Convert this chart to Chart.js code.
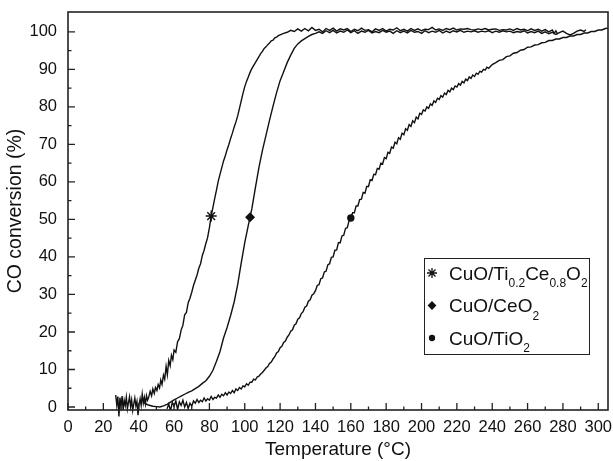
<!DOCTYPE html>
<html>
<head>
<meta charset="utf-8">
<script src="https://cdn.jsdelivr.net/npm/chart.js@4.4.1/dist/chart.umd.min.js"></script>
<style>
  html, body { margin: 0; padding: 0; background: #fff; }
  canvas { display: block; }
</style>
</head>
<body>
<canvas id="coChart" width="613" height="461"></canvas>
<script>
// ----------------------------------------------------
// Data: [temperature (°C), CO conversion (%)]
// ----------------------------------------------------
const tiCeData = [
  [27,3.2],[27.6,0.5],[28.2,2.8],[28.8,-2.5],[29.4,2.5],[30,0.2],[30.6,2.9],[31.2,-0.8],[31.8,1.8],[32.4,0.4],
  [33,2.6],[33.6,-0.5],[34.2,1.2],[34.8,2.7],[35.4,0.1],[36,1.9],[36.6,-0.9],[37.2,0.8],[37.8,2.4],[38.4,0.3],
  [39,1.5],[39.6,-2.2],[40.2,0.6],[40.8,2.2],[41.4,0.4],[42,3.4],[42.6,1.0],[43.2,2.6],[43.8,0.8],[44.4,3.0],
  [45,1.8],[45.6,2.5],[46.5,4.2],[47.3,3.0],[48,4.8],[48.8,3.6],[49.5,5.2],[50.3,4.4],[51,6.0],[51.8,5.1],
  [52.5,7.2],[53.2,6.0],[54,8.5],[54.7,7.4],[55.5,10.8],[56.2,8.6],[57,12.4],[57.8,11.0],[58.5,13.8],[59.3,12.6],
  [60,15.2],[61,14.6],[62,17.4],[63,18.2],[64,20.5],[65,21.8],[66,24.6],[67,25.2],[68,27.8],[69,29.0],
  [70,30.6],[71,32.4],[72,33.8],[73,35.2],[74,37.0],[75,38.2],[76,40.4],[77,41.8],[78,43.6],[79,45.2],
  [80,47.8],[81,50.9],[82,53.2],[83,55.6],[84,57.8],[85,60.2],[86,62.0],[87,63.8],[88,65.6],[89,67.0],
  [90,68.6],[91,70.0],[92,71.6],[93,73.0],[94,74.6],[95,76.0],[96,77.6],[97,79.6],[98,81.6],[99,83.6],
  [100,85.4],[101,86.8],[102,88.0],[103,89.2],[104,90.2],[105,91.0],[106,91.8],[107,92.6],[108,93.4],[109,94.2],
  [110,94.8],[111,95.6],[112,96.0],[113,96.6],[114,97.0],[115,97.6],[116,97.8],[117,98.4],[118,98.6],[119,99.0],
  [120,99.2],[122,99.6],[124,99.9],[126,100.4],[128,100.1],[130,100.8],[132,100.2],[134,100.9],[136,100.3],[138,101.2],
  [140,100.4],[142,100.7],[144,100.0],[146,100.9],[148,100.4],[150,101.0],[152,100.2],[154,100.8],[156,100.5],[158,100.9],
  [160,100.1],[162,100.7],[164,100.3],[166,101.0],[168,100.4],[170,100.6],[172,100.0],[174,100.8],[176,100.4],[178,100.9],
  [180,100.2],[182,100.7],[184,100.5],[186,101.1],[188,100.3],[190,100.7],[192,100.2],[194,100.9],[196,100.4],[198,100.8],
  [200,100.3],[202,100.7],[204,100.6],[206,101.2],[208,100.5],[210,100.8],[212,100.4],[214,100.9],[216,100.6],[218,101.0],
  [220,100.5],[222,100.8],[224,100.7],[226,100.9],[228,100.6],[230,100.5],[232,100.8],[234,100.6],[236,100.9],[238,100.5],
  [240,100.7],[242,100.8],[244,100.4],[246,100.6],[248,100.5],[250,100.8],[252,100.4],[254,100.9],[256,100.5],[258,100.7],
  [260,100.3],[262,100.8],[264,100.4],[266,100.7],[268,100.2],[270,100.6],[272,100.0],[274,100.5],[275,99.6],[276,100.3],
  [277,99.4]
];

const ceo2Data = [
  [42.5,1.2],[45,0.6],[48,0.2],[50,0.1],[52,0.0],[54,0.3],[56,0.7],[58,1.3],[60,1.9],[62,2.4],
  [64,2.9],[66,3.4],[68,3.9],[70,4.3],[72,4.9],[74,5.5],[76,6.3],[78,7.0],[80,8.2],[82,9.8],
  [84,12.2],[86,14.8],[88,18.4],[90,21.2],[92,24.4],[94,28.0],[96,32.6],[98,38.4],[100,43.8],[102,48.4],
  [103,50.6],[104,52.8],[106,58.4],[108,63.8],[110,68.4],[112,72.4],[114,76.4],[116,80.2],[118,83.8],[120,87.0],
  [122,89.4],[124,91.8],[126,93.8],[128,95.6],[130,96.8],[132,97.6],[134,98.2],[136,98.8],[138,99.3],[140,99.6],
  [142,100.0],[144,99.6],[146,100.3],[148,99.8],[150,100.4],[152,99.7],[154,100.2],[156,99.9],[158,100.5],[160,99.8],
  [162,100.3],[164,99.6],[166,100.2],[168,99.9],[170,100.4],[172,99.7],[174,100.1],[176,99.8],[178,100.4],[180,99.9],
  [182,100.2],[184,99.6],[186,100.3],[188,99.8],[190,100.2],[192,99.7],[194,100.4],[196,99.9],[198,100.1],[200,99.6],
  [202,100.3],[204,99.8],[206,100.2],[208,99.9],[210,100.4],[212,99.7],[214,100.2],[216,99.8],[218,100.3],[220,100.0],
  [222,100.4],[224,99.9],[226,100.2],[228,100.0],[230,100.3],[232,99.9],[234,100.2],[236,100.0],[238,100.3],[240,99.8],
  [242,100.2],[244,99.9],[246,100.3],[248,100.0],[250,100.2],[252,99.8],[254,100.1],[256,99.9],[258,100.3],[260,99.7],
  [262,100.1],[264,99.8],[266,100.2],[268,99.6],[270,100.0],[272,99.5],[274,99.9],[276,99.3],[278,99.8],[280,100.2],
  [282,99.6],[284,99.2],[286,99.6],[288,100.2],[290,100.5],[292,100.1],[293,100.6]
];

const tio2Data = [
  [56,-0.5],[57,0.8],[58,-1.0],[59,1.2],[60,0.2],[61,1.6],[62,-0.6],[63,1.4],[64,0.4],[65,1.8],
  [66,0.0],[67,1.2],[68,-0.4],[69,1.0],[70,0.2],[71,1.6],[72,1.0],[73,2.0],[74,1.2],[75,1.8],
  [76,1.4],[77,2.4],[78,1.6],[79,2.2],[80,1.8],[81,2.8],[82,2.0],[83,2.6],[84,2.4],[85,3.2],
  [86,2.6],[87,3.4],[88,3.0],[89,3.8],[90,3.2],[91,4.0],[92,3.6],[93,4.4],[94,3.8],[95,4.8],
  [96,4.4],[97,5.2],[98,4.8],[99,5.6],[100,5.4],[101,6.2],[102,5.8],[103,6.6],[104,6.6],[105,7.4],
  [106,7.2],[107,8.0],[108,8.2],[109,8.8],[110,9.2],[111,9.8],[112,10.4],[113,10.8],[114,11.6],[115,12.0],
  [116,12.8],[117,13.4],[118,14.4],[119,14.8],[120,15.8],[121,16.2],[122,17.2],[123,17.6],[124,18.6],[125,19.2],
  [126,20.2],[127,20.6],[128,21.8],[129,22.2],[130,23.4],[131,23.8],[132,24.9],[133,25.4],[134,26.6],[135,26.9],
  [136,28.2],[137,28.6],[138,29.8],[139,30.2],[140,31.0],[141,32.4],[142,32.6],[143,34.2],[144,34.4],[145,36.0],
  [146,36.2],[147,37.9],[148,38.2],[149,39.9],[150,40.0],[151,41.8],[152,41.9],[153,43.8],[154,43.8],[155,45.6],
  [156,45.8],[157,47.6],[158,47.8],[159,49.6],[160,50.4],[161,51.8],[162,51.8],[163,53.6],[164,53.6],[165,55.3],
  [166,55.4],[167,57.2],[168,57.0],[169,58.8],[170,58.8],[171,60.6],[172,60.4],[173,62.0],[174,61.9],[175,63.6],
  [176,63.4],[177,65.0],[178,64.8],[179,66.5],[180,66.2],[181,67.9],[182,67.6],[183,69.3],[184,69.0],[185,70.6],
  [186,70.2],[187,71.8],[188,71.4],[189,73.0],[190,72.6],[191,74.2],[192,73.8],[193,75.3],[194,74.8],[195,76.3],
  [196,75.8],[197,77.3],[198,76.8],[199,78.3],[200,78.0],[201,79.2],[202,78.9],[203,80.0],[204,79.6],[205,80.8],
  [206,80.4],[207,81.6],[208,81.2],[209,82.3],[210,82.0],[211,83.0],[212,82.6],[213,83.7],[214,83.3],[215,84.4],
  [216,84.0],[217,85.0],[218,84.6],[219,85.6],[220,85.3],[221,86.2],[222,85.8],[223,86.8],[224,86.4],[225,87.4],
  [226,87.0],[227,88.0],[228,87.6],[229,88.5],[230,88.1],[231,89.0],[232,88.7],[233,89.5],[234,89.3],[235,90.0],
  [236,89.8],[237,90.6],[238,90.3],[240,91.3],[242,91.8],[244,92.4],[246,92.6],[248,93.4],[250,93.6],[252,94.3],
  [254,94.5],[256,95.1],[258,95.3],[260,95.9],[262,96.0],[264,96.5],[266,96.6],[268,97.1],[270,97.2],[272,97.7],
  [274,97.7],[276,98.1],[278,98.1],[280,98.5],[282,98.5],[284,98.9],[286,98.9],[288,99.3],[290,99.3],[292,99.7],
  [294,99.7],[296,100.1],[298,100.1],[300,100.5],[302,100.5],[304,100.9],[305.5,101.0]
];

const seriesLabels = ['CuO/Ti0.2Ce0.8O2', 'CuO/CeO2', 'CuO/TiO2'];
const markerTemps = [81, 103, 160];          // the one symbol drawn on each curve
const xTicks = [0, 20, 40, 60, 80, 100, 120, 140, 160, 180, 200, 220, 240, 260, 280, 300];
const yTicks = [0, 10, 20, 30, 40, 50, 60, 70, 80, 90, 100];

// legend text split into [text, isSubscript]
const legendParts = [
  [['CuO/Ti'], ['0.2', 1], ['Ce'], ['0.8', 1], ['O'], ['2', 1]],
  [['CuO/CeO'], ['2', 1]],
  [['CuO/TiO'], ['2', 1]]
];

const FONT = "'Liberation Sans', Arial, Helvetica, sans-serif";
const INK = '#111';

document.addEventListener('DOMContentLoaded', () => {

    Chart.defaults.font.family = FONT;
    Chart.defaults.color = INK;

    const styles = [
        { pointStyle: 'star',    radius: 5.5 },
        { pointStyle: 'rectRot', radius: 4   },
        { pointStyle: 'circle',  radius: 3   }
    ];

    const makeSet = (points, i) => ({
        label: seriesLabels[i],
        data: points.map(p => ({ x: p[0], y: p[1] })),
        borderColor: INK,
        backgroundColor: INK,
        borderWidth: 1.4,
        tension: 0,
        clip: i === 0 ? false : true,
        pointStyle: styles[i].pointStyle,
        pointBorderWidth: 1.4,
        pointRadius: c => (c.raw && c.raw.x === markerTemps[i]) ? styles[i].radius : 0,
        pointHoverRadius: 0
    });

    // ----------------------------------------------------
    // Frame + inward ticks (major and minor), bottom/left only
    // ----------------------------------------------------
    const frameTicks = {
        id: 'frameTicks',
        afterDraw(chart) {
            const { ctx, chartArea: a, scales: { x, y } } = chart;
            ctx.save();
            ctx.strokeStyle = '#222';
            ctx.lineWidth = 1.3;
            ctx.beginPath();
            xTicks.forEach((v, k) => {
                let px = x.getPixelForValue(v);
                ctx.moveTo(px, a.bottom); ctx.lineTo(px, a.bottom - 7);
                if (k < xTicks.length - 1) {
                    px = x.getPixelForValue((v + xTicks[k + 1]) / 2);
                    ctx.moveTo(px, a.bottom); ctx.lineTo(px, a.bottom - 3.5);
                }
            });
            yTicks.forEach((v, k) => {
                let py = y.getPixelForValue(v);
                ctx.moveTo(a.left, py); ctx.lineTo(a.left + 7, py);
                if (k < yTicks.length - 1) {
                    py = y.getPixelForValue((v + yTicks[k + 1]) / 2);
                    ctx.moveTo(a.left, py); ctx.lineTo(a.left + 3.5, py);
                }
            });
            ctx.stroke();
            ctx.lineWidth = 1.6;
            ctx.strokeRect(a.left, a.top, a.width, a.height);
            ctx.restore();
        }
    };

    // ----------------------------------------------------
    // Legend box with subscripts
    // ----------------------------------------------------
    const subLegend = {
        id: 'subLegend',
        afterDraw(chart) {
            const ctx = chart.ctx;
            const box = { left: 424, top: 258, width: 165, height: 96 };
            ctx.save();
            ctx.fillStyle = '#fff';
            ctx.fillRect(box.left, box.top, box.width, box.height);
            ctx.strokeStyle = '#222';
            ctx.lineWidth = 1;
            ctx.strokeRect(box.left + 0.5, box.top + 0.5, box.width, box.height);

            legendParts.forEach((parts, i) => {
                const rowY = box.top + 15 + i * 32.5;
                ctx.fillStyle = INK;
                ctx.strokeStyle = INK;
                ctx.lineWidth = 1.3;
                Chart.helpers.drawPoint(ctx, {
                    pointStyle: styles[i].pointStyle,
                    radius: styles[i].radius - 0.5,
                    rotation: 0,
                    borderWidth: 1.3
                }, box.left + 8, rowY);

                let tx = box.left + 25;
                const base = rowY + 6.5;
                ctx.textBaseline = 'alphabetic';
                ctx.textAlign = 'left';
                parts.forEach(([txt, sub]) => {
                    ctx.font = (sub ? '12px ' : '19px ') + FONT;
                    ctx.fillText(txt, tx, sub ? base + 7.5 : base);
                    tx += ctx.measureText(txt).width;
                });
            });
            ctx.restore();
        }
    };

    new Chart(document.getElementById('coChart'), {
        type: 'line',
        data: {
            datasets: [makeSet(tiCeData, 0), makeSet(ceo2Data, 1), makeSet(tio2Data, 2)]
        },
        options: {
            responsive: false,
            animation: false,
            layout: { padding: { left: 0, right: 5, top: 12, bottom: 0 } },
            plugins: {
                legend: { display: false },
                tooltip: { enabled: false }
            },
            scales: {
                x: {
                    type: 'linear',
                    min: 0,
                    max: 305.5,
                    afterBuildTicks: s => { s.ticks = xTicks.map(v => ({ value: v })); },
                    afterFit: s => { s.height = 51; s.paddingLeft = 0; s.paddingRight = 0; },
                    grid: { display: false, drawTicks: false },
                    border: { display: false },
                    ticks: { font: { size: 16.5 }, color: INK, padding: 8, maxRotation: 0, autoSkip: false },
                    title: {
                        display: true,
                        text: 'Temperature (°C)',
                        font: { size: 19 },
                        color: INK,
                        padding: { top: 0, bottom: 0 }
                    }
                },
                y: {
                    type: 'linear',
                    min: -0.8,
                    max: 105.3,
                    afterBuildTicks: s => { s.ticks = yTicks.map(v => ({ value: v })); },
                    afterFit: s => { s.width = 68; s.paddingTop = 0; s.paddingBottom = 0; },
                    grid: { display: false, drawTicks: false },
                    border: { display: false },
                    ticks: { font: { size: 16.5 }, color: INK, padding: 11, autoSkip: false },
                    title: {
                        display: true,
                        text: 'CO conversion (%)',
                        font: { size: 19.5 },
                        color: INK,
                        padding: { top: 4, bottom: 0 }
                    }
                }
            }
        },
        plugins: [frameTicks, subLegend]
    });
});
</script>
</body>
</html>
